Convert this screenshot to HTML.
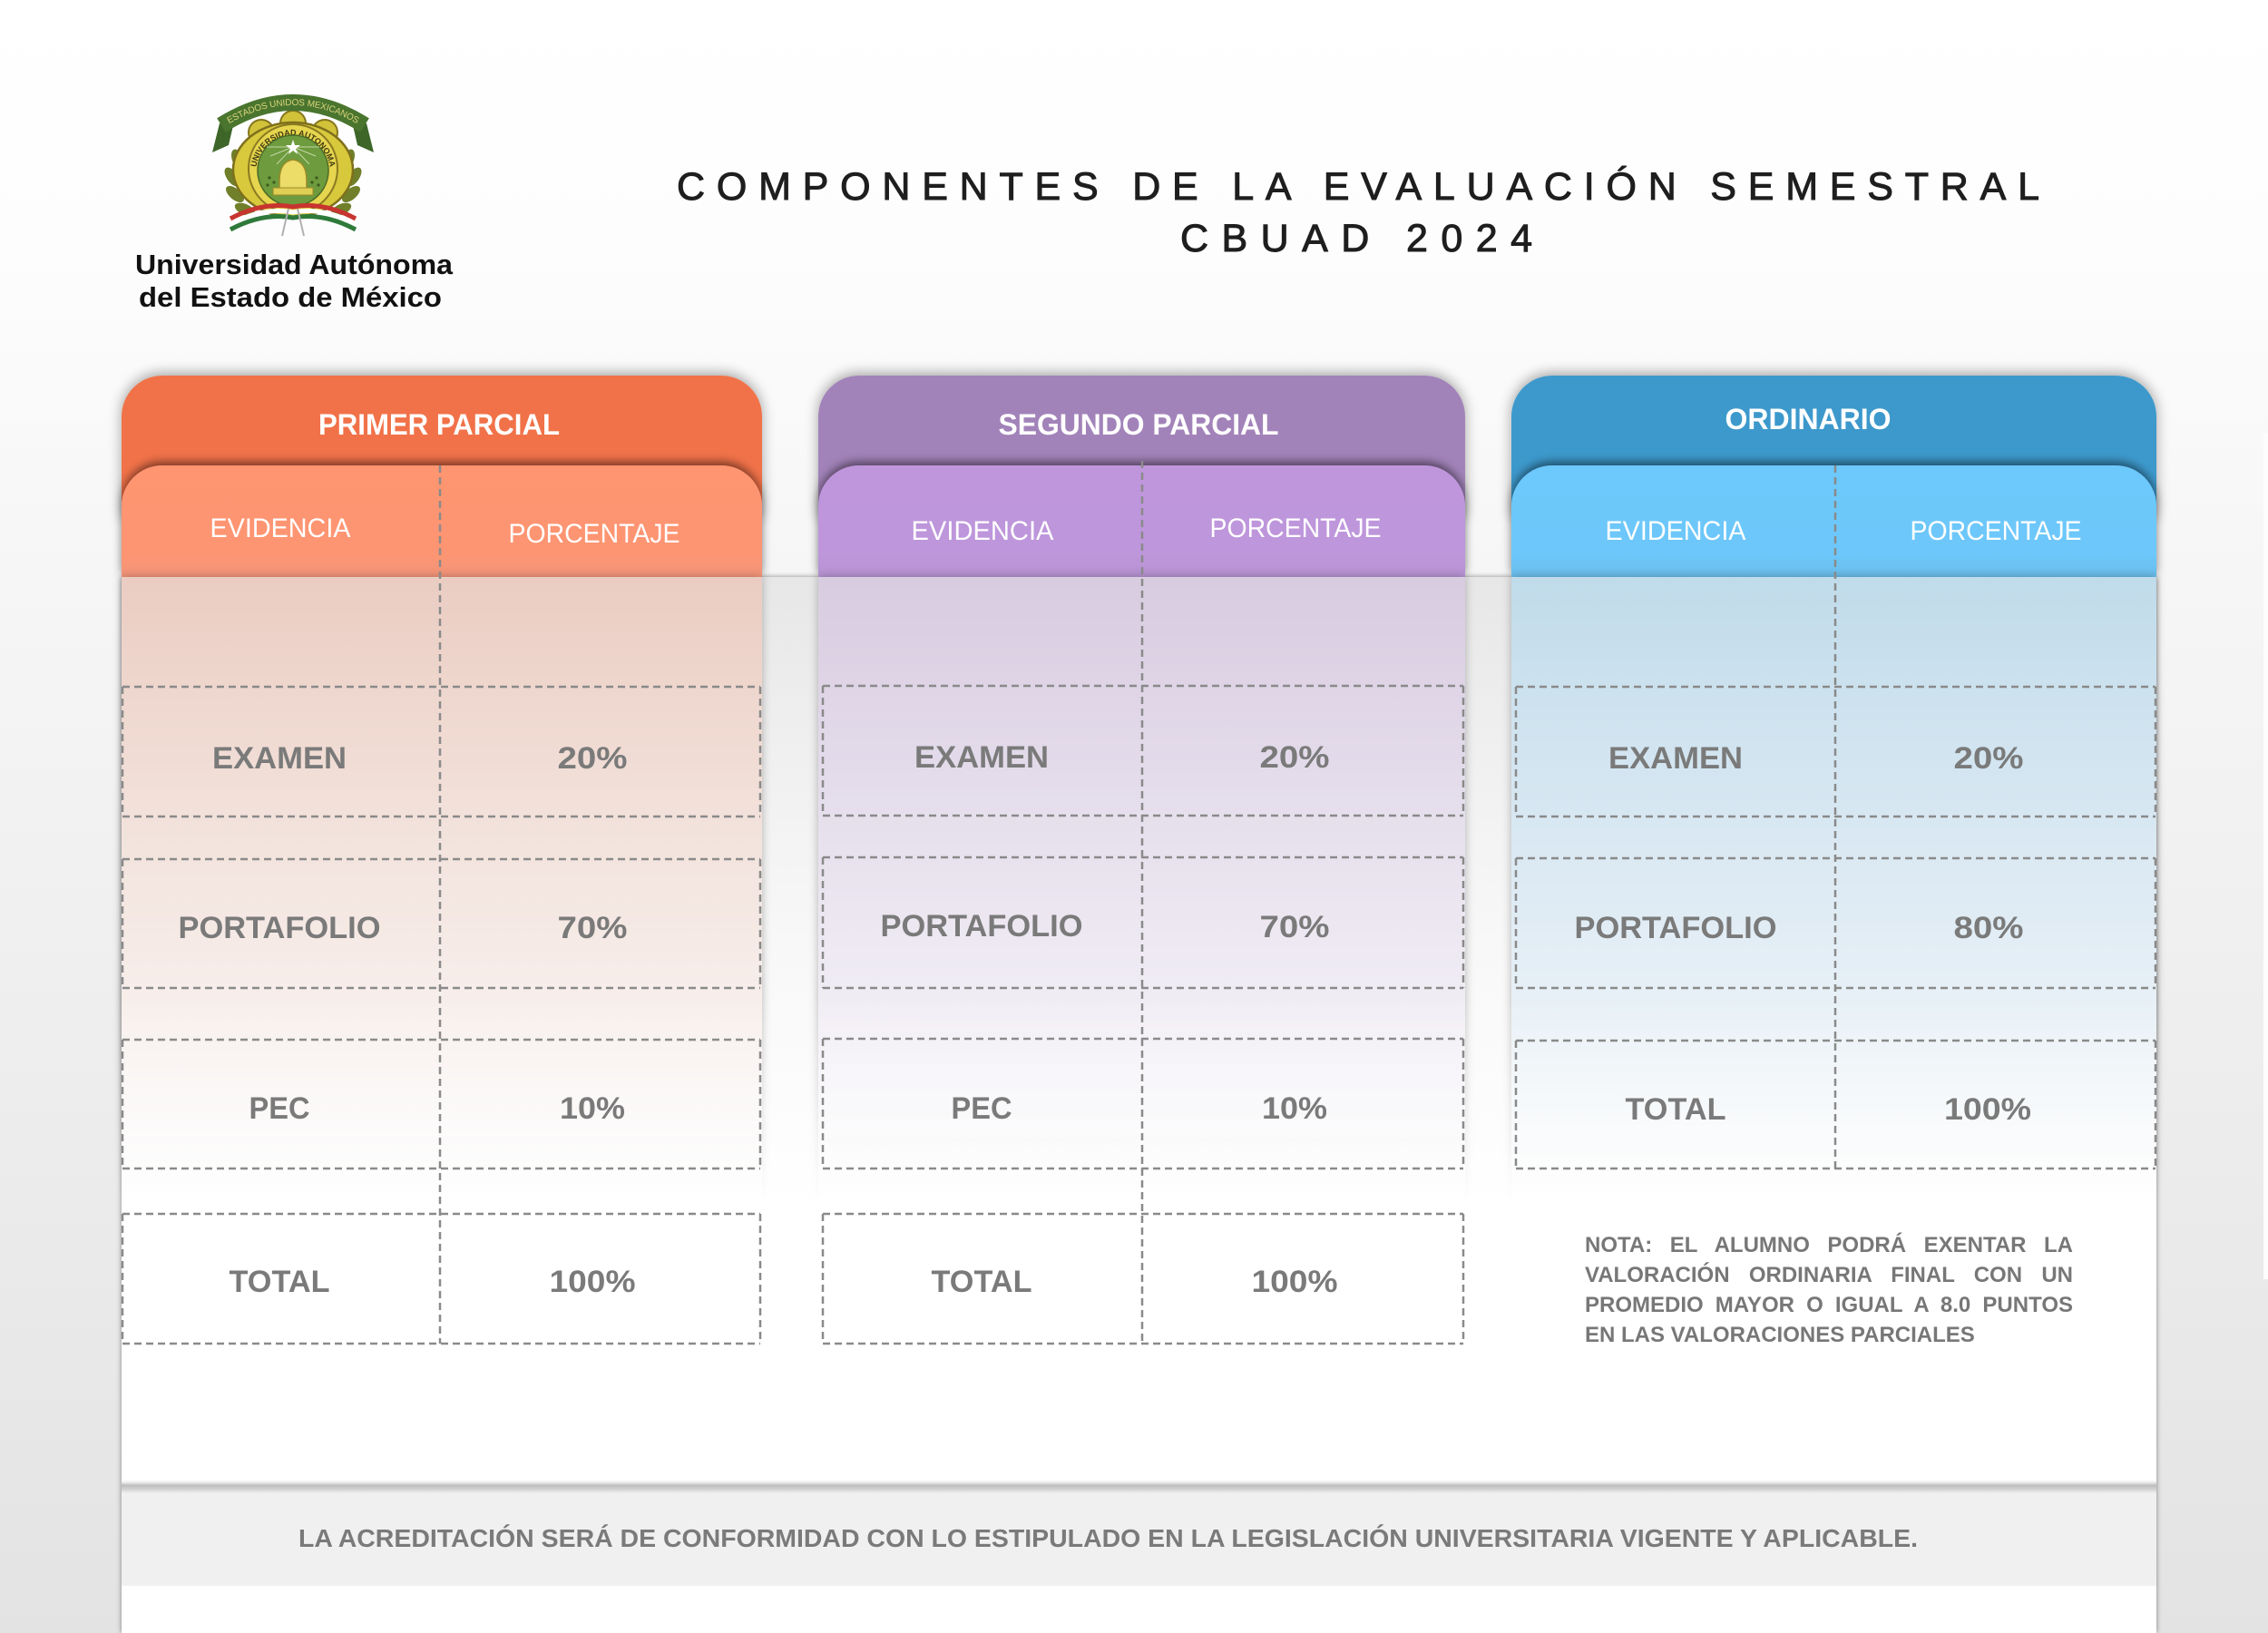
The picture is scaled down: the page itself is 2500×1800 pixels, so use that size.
<!DOCTYPE html>
<html>
<head>
<meta charset="utf-8">
<style>
html,body{margin:0;padding:0;background:#fff;}
.wrap{position:relative;width:2500px;height:1800px;overflow:hidden;}
svg{display:block;position:absolute;left:0;top:0;}
text{font-family:"Liberation Sans",Arial,sans-serif;}
.nota{position:absolute;left:1747px;top:1356px;width:538px;font-family:"Liberation Sans",Arial,sans-serif;font-weight:bold;font-size:24px;line-height:33px;color:#777777;}
.nota div{white-space:nowrap;}
.nota .j{text-align:justify;text-align-last:justify;white-space:normal;}
</style>
</head>
<body>
<div class="wrap">
<svg width="2500" height="1800" viewBox="0 0 2500 1800" xmlns="http://www.w3.org/2000/svg">
<defs>
  <linearGradient id="bg" x1="0" y1="0" x2="0" y2="1800" gradientUnits="userSpaceOnUse">
    <stop offset="0" stop-color="#ffffff"/>
    <stop offset="0.15" stop-color="#fdfdfd"/>
    <stop offset="0.35" stop-color="#f6f6f6"/>
    <stop offset="0.7" stop-color="#ececec"/>
    <stop offset="1" stop-color="#e3e3e3"/>
  </linearGradient>
  <linearGradient id="panel" x1="0" y1="636" x2="0" y2="1800" gradientUnits="userSpaceOnUse">
    <stop offset="0" stop-color="#e7e7e7"/>
    <stop offset="0.15" stop-color="#efefef"/>
    <stop offset="0.35" stop-color="#f8f8f8"/>
    <stop offset="0.6" stop-color="#ffffff"/>
    <stop offset="1" stop-color="#ffffff"/>
  </linearGradient>
  <linearGradient id="bodyO" x1="0" y1="636" x2="0" y2="1400" gradientUnits="userSpaceOnUse">
    <stop offset="0" stop-color="#eaccc2"/>
    <stop offset="0.15" stop-color="#eed6cd"/>
    <stop offset="0.4" stop-color="#f3e4de"/>
    <stop offset="0.7" stop-color="#f9f2f0"/>
    <stop offset="1" stop-color="#ffffff"/>
  </linearGradient>
  <linearGradient id="bodyP" x1="0" y1="636" x2="0" y2="1400" gradientUnits="userSpaceOnUse">
    <stop offset="0" stop-color="#d8cce0"/>
    <stop offset="0.15" stop-color="#ded4e6"/>
    <stop offset="0.4" stop-color="#e8e2ee"/>
    <stop offset="0.7" stop-color="#f4f1f7"/>
    <stop offset="1" stop-color="#ffffff"/>
  </linearGradient>
  <linearGradient id="bodyB" x1="0" y1="636" x2="0" y2="1400" gradientUnits="userSpaceOnUse">
    <stop offset="0" stop-color="#c0dbea"/>
    <stop offset="0.15" stop-color="#cbe1ee"/>
    <stop offset="0.4" stop-color="#dbe9f3"/>
    <stop offset="0.7" stop-color="#ecf3f8"/>
    <stop offset="1" stop-color="#ffffff"/>
  </linearGradient>
  <linearGradient id="subO" x1="0" y1="513" x2="0" y2="636" gradientUnits="userSpaceOnUse">
    <stop offset="0" stop-color="#ff9571"/>
    <stop offset="0.8" stop-color="#fd9572"/>
    <stop offset="1" stop-color="#f2957a"/>
  </linearGradient>
  <linearGradient id="subP" x1="0" y1="513" x2="0" y2="636" gradientUnits="userSpaceOnUse">
    <stop offset="0" stop-color="#bf96dc"/>
    <stop offset="0.8" stop-color="#be96db"/>
    <stop offset="1" stop-color="#b793d2"/>
  </linearGradient>
  <linearGradient id="subB" x1="0" y1="513" x2="0" y2="636" gradientUnits="userSpaceOnUse">
    <stop offset="0" stop-color="#6dc8fb"/>
    <stop offset="0.8" stop-color="#6dc7fa"/>
    <stop offset="1" stop-color="#6bbdeb"/>
  </linearGradient>
  <linearGradient id="fadeG" x1="0" y1="1100" x2="0" y2="1330" gradientUnits="userSpaceOnUse">
    <stop offset="0" stop-color="#fff"/>
    <stop offset="1" stop-color="#000"/>
  </linearGradient>
  <mask id="fadeM" maskUnits="userSpaceOnUse" x="0" y="0" width="2500" height="1800">
    <rect x="0" y="0" width="2500" height="1800" fill="url(#fadeG)"/>
  </mask>
  <linearGradient id="footShadow" x1="0" y1="1630" x2="0" y2="1646" gradientUnits="userSpaceOnUse">
    <stop offset="0" stop-color="#ffffff" stop-opacity="0"/>
    <stop offset="0.45" stop-color="#bdbdbd"/>
    <stop offset="0.7" stop-color="#d0d0d0"/>
    <stop offset="1" stop-color="#f0f0f0"/>
  </linearGradient>
  <filter id="fHead" x="-10%" y="-40%" width="120%" height="180%">
    <feDropShadow dx="0" dy="-3" stdDeviation="7" flood-color="#000" flood-opacity="0.35"/>
  </filter>
  <filter id="fSub" x="-10%" y="-40%" width="120%" height="180%">
    <feDropShadow dx="0" dy="-4" stdDeviation="5" flood-color="#000" flood-opacity="0.5"/>
  </filter>
  <filter id="fPanel" x="-5%" y="-5%" width="110%" height="110%">
    <feDropShadow dx="0" dy="0" stdDeviation="3" flood-color="#000" flood-opacity="0.45"/>
  </filter>
  <filter id="fBody" x="-10%" y="-5%" width="120%" height="110%">
    <feDropShadow dx="0" dy="0" stdDeviation="5" flood-color="#000" flood-opacity="0.28"/>
  </filter>
  <path id="bannerArc" d="M244,138 Q323,88 402,138"/>
  <path id="ringArc" d="M282,190 A41,41 0 0 1 364,190"/>
</defs>

<!-- page background -->
<rect x="0" y="0" width="2500" height="1800" fill="url(#bg)"/>
<rect x="2495" y="477" width="5" height="933" fill="#fdfdfd"/>

<!-- main panel -->
<rect x="134" y="636" width="2243" height="1164" fill="url(#panel)" filter="url(#fPanel)"/>

<!-- headers -->
<path d="M134,574 V459 A45,45 0 0 1 179,414 H795 A45,45 0 0 1 840,459 V574 Z" fill="#f17249" filter="url(#fHead)"/>
<path d="M902,574 V459 A45,45 0 0 1 947,414 H1570 A45,45 0 0 1 1615,459 V574 Z" fill="#a283b9" filter="url(#fHead)"/>
<path d="M1666,574 V459 A45,45 0 0 1 1711,414 H2332 A45,45 0 0 1 2377,459 V574 Z" fill="#3c99cc" filter="url(#fHead)"/>

<!-- sub headers -->
<path d="M134,636 V558 A45,45 0 0 1 179,513 H795 A45,45 0 0 1 840,558 V636 Z" fill="url(#subO)" filter="url(#fSub)"/>
<path d="M902,636 V558 A45,45 0 0 1 947,513 H1570 A45,45 0 0 1 1615,558 V636 Z" fill="url(#subP)" filter="url(#fSub)"/>
<path d="M1666,636 V558 A45,45 0 0 1 1711,513 H2332 A45,45 0 0 1 2377,558 V636 Z" fill="url(#subB)" filter="url(#fSub)"/>

<!-- card bodies -->
<g mask="url(#fadeM)">
  <rect x="134" y="636" width="706" height="700" fill="url(#bodyO)" filter="url(#fBody)"/>
  <rect x="902" y="636" width="713" height="700" fill="url(#bodyP)" filter="url(#fBody)"/>
  <rect x="1666" y="636" width="711" height="700" fill="url(#bodyB)" filter="url(#fBody)"/>
</g>
<rect x="134" y="1330" width="706" height="300" fill="#ffffff"/>
<rect x="902" y="1330" width="713" height="300" fill="#ffffff"/>
<rect x="1666" y="1330" width="711" height="300" fill="#ffffff"/>

<!-- footer band -->
<rect x="134" y="1637" width="2243" height="111" fill="#f0f0f0"/>
<rect x="134" y="1630" width="2243" height="16" fill="url(#footShadow)"/>
<rect x="134" y="1748" width="2243" height="52" fill="#ffffff"/>

<!-- dashed grid -->
<g fill="none" stroke="#8a8a8a" stroke-width="2.5" stroke-dasharray="8 5">
  <!-- orange -->
  <line x1="485" y1="513" x2="485" y2="1481"/>
  <line x1="135" y1="757" x2="838" y2="757"/><line x1="135" y1="900" x2="838" y2="900"/>
  <line x1="135" y1="757" x2="135" y2="900"/><line x1="838" y1="757" x2="838" y2="900"/>
  <line x1="135" y1="947" x2="838" y2="947"/><line x1="135" y1="1089" x2="838" y2="1089"/>
  <line x1="135" y1="947" x2="135" y2="1089"/><line x1="838" y1="947" x2="838" y2="1089"/>
  <line x1="135" y1="1146" x2="838" y2="1146"/><line x1="135" y1="1288" x2="838" y2="1288"/>
  <line x1="135" y1="1146" x2="135" y2="1288"/><line x1="838" y1="1146" x2="838" y2="1288"/>
  <line x1="135" y1="1338" x2="838" y2="1338"/><line x1="135" y1="1481" x2="838" y2="1481"/>
  <line x1="135" y1="1338" x2="135" y2="1481"/><line x1="838" y1="1338" x2="838" y2="1481"/>
  <!-- purple -->
  <line x1="1259" y1="508" x2="1259" y2="1481"/>
  <line x1="907" y1="756" x2="1613" y2="756"/><line x1="907" y1="899" x2="1613" y2="899"/>
  <line x1="907" y1="756" x2="907" y2="899"/><line x1="1613" y1="756" x2="1613" y2="899"/>
  <line x1="907" y1="945" x2="1613" y2="945"/><line x1="907" y1="1089" x2="1613" y2="1089"/>
  <line x1="907" y1="945" x2="907" y2="1089"/><line x1="1613" y1="945" x2="1613" y2="1089"/>
  <line x1="907" y1="1145" x2="1613" y2="1145"/><line x1="907" y1="1288" x2="1613" y2="1288"/>
  <line x1="907" y1="1145" x2="907" y2="1288"/><line x1="1613" y1="1145" x2="1613" y2="1288"/>
  <line x1="907" y1="1338" x2="1613" y2="1338"/><line x1="907" y1="1481" x2="1613" y2="1481"/>
  <line x1="907" y1="1338" x2="907" y2="1481"/><line x1="1613" y1="1338" x2="1613" y2="1481"/>
  <!-- blue -->
  <line x1="2023" y1="513" x2="2023" y2="1288"/>
  <line x1="1671" y1="757" x2="2376" y2="757"/><line x1="1671" y1="900" x2="2376" y2="900"/>
  <line x1="1671" y1="757" x2="1671" y2="900"/><line x1="2376" y1="757" x2="2376" y2="900"/>
  <line x1="1671" y1="946" x2="2376" y2="946"/><line x1="1671" y1="1089" x2="2376" y2="1089"/>
  <line x1="1671" y1="946" x2="1671" y2="1089"/><line x1="2376" y1="946" x2="2376" y2="1089"/>
  <line x1="1671" y1="1147" x2="2376" y2="1147"/><line x1="1671" y1="1288" x2="2376" y2="1288"/>
  <line x1="1671" y1="1147" x2="1671" y2="1288"/><line x1="2376" y1="1147" x2="2376" y2="1288"/>
</g>

<!-- header texts -->
<g fill="#ffffff" font-weight="bold" font-size="32" text-anchor="middle">
  <text x="484" y="479" textLength="266" lengthAdjust="spacingAndGlyphs">PRIMER PARCIAL</text>
  <text x="1255" y="479" textLength="309" lengthAdjust="spacingAndGlyphs">SEGUNDO PARCIAL</text>
  <text x="1993" y="473" textLength="183" lengthAdjust="spacingAndGlyphs">ORDINARIO</text>
</g>
<g fill="#ffffff" font-size="30" text-anchor="middle">
  <text x="309" y="592" textLength="155" lengthAdjust="spacingAndGlyphs">EVIDENCIA</text>
  <text x="655" y="598" textLength="189" lengthAdjust="spacingAndGlyphs">PORCENTAJE</text>
  <text x="1083" y="595" textLength="157" lengthAdjust="spacingAndGlyphs">EVIDENCIA</text>
  <text x="1428" y="592" textLength="189" lengthAdjust="spacingAndGlyphs">PORCENTAJE</text>
  <text x="1847" y="595" textLength="155" lengthAdjust="spacingAndGlyphs">EVIDENCIA</text>
  <text x="2200" y="595" textLength="189" lengthAdjust="spacingAndGlyphs">PORCENTAJE</text>
</g>

<!-- body texts -->
<g fill="#7a7a7a" font-weight="bold" font-size="34" text-anchor="middle">
  <text x="308" y="847" textLength="148" lengthAdjust="spacingAndGlyphs">EXAMEN</text>
  <text x="653" y="847" textLength="77" lengthAdjust="spacingAndGlyphs">20%</text>
  <text x="308" y="1034" textLength="223" lengthAdjust="spacingAndGlyphs">PORTAFOLIO</text>
  <text x="653" y="1034" textLength="77" lengthAdjust="spacingAndGlyphs">70%</text>
  <text x="308" y="1233" textLength="67" lengthAdjust="spacingAndGlyphs">PEC</text>
  <text x="653" y="1233" textLength="72" lengthAdjust="spacingAndGlyphs">10%</text>
  <text x="308" y="1424" textLength="111" lengthAdjust="spacingAndGlyphs">TOTAL</text>
  <text x="653" y="1424" textLength="95" lengthAdjust="spacingAndGlyphs">100%</text>

  <text x="1082" y="846" textLength="148" lengthAdjust="spacingAndGlyphs">EXAMEN</text>
  <text x="1427" y="846" textLength="77" lengthAdjust="spacingAndGlyphs">20%</text>
  <text x="1082" y="1032" textLength="223" lengthAdjust="spacingAndGlyphs">PORTAFOLIO</text>
  <text x="1427" y="1033" textLength="77" lengthAdjust="spacingAndGlyphs">70%</text>
  <text x="1082" y="1233" textLength="67" lengthAdjust="spacingAndGlyphs">PEC</text>
  <text x="1427" y="1233" textLength="72" lengthAdjust="spacingAndGlyphs">10%</text>
  <text x="1082" y="1424" textLength="111" lengthAdjust="spacingAndGlyphs">TOTAL</text>
  <text x="1427" y="1424" textLength="95" lengthAdjust="spacingAndGlyphs">100%</text>

  <text x="1847" y="847" textLength="148" lengthAdjust="spacingAndGlyphs">EXAMEN</text>
  <text x="2192" y="847" textLength="77" lengthAdjust="spacingAndGlyphs">20%</text>
  <text x="1847" y="1034" textLength="223" lengthAdjust="spacingAndGlyphs">PORTAFOLIO</text>
  <text x="2192" y="1034" textLength="77" lengthAdjust="spacingAndGlyphs">80%</text>
  <text x="1847" y="1234" textLength="111" lengthAdjust="spacingAndGlyphs">TOTAL</text>
  <text x="2191" y="1234" textLength="96" lengthAdjust="spacingAndGlyphs">100%</text>
</g>

<!-- footer text -->
<text x="329" y="1705" fill="#7a7a7a" font-weight="bold" font-size="28" textLength="1785" lengthAdjust="spacingAndGlyphs">LA ACREDITACIÓN SERÁ DE CONFORMIDAD CON LO ESTIPULADO EN LA LEGISLACIÓN UNIVERSITARIA VIGENTE Y APLICABLE.</text>

<!-- title -->
<g fill="#1e1e1e" stroke="#1e1e1e" stroke-width="1" font-size="43">
  <text x="746" y="220" textLength="1502" lengthAdjust="spacing">COMPONENTES DE LA EVALUACIÓN SEMESTRAL</text>
  <text x="1301" y="277" textLength="388" lengthAdjust="spacing">CBUAD 2024</text>
</g>

<!-- university name -->
<g fill="#111111" font-weight="bold" font-size="31">
  <text x="149" y="302" textLength="350" lengthAdjust="spacingAndGlyphs">Universidad Autónoma</text>
  <text x="153" y="338" textLength="334" lengthAdjust="spacingAndGlyphs">del Estado de México</text>
</g>

<!-- crest -->
<g>
  <!-- banner tails -->
  <path d="M242,136 L234,168 L252,160 L258,134 Z" fill="#3d6628"/>
  <path d="M404,136 L412,168 L394,160 L388,134 Z" fill="#3d6628"/>
  <!-- laurels -->
  <g fill="#6f7f2a">
    <ellipse cx="262" cy="176" rx="6" ry="12" transform="rotate(-20 262 176)"/>
    <ellipse cx="256" cy="195" rx="6" ry="12" transform="rotate(-35 256 195)"/>
    <ellipse cx="259" cy="214" rx="6" ry="12" transform="rotate(-50 259 214)"/>
    <ellipse cx="270" cy="231" rx="6" ry="12" transform="rotate(-65 270 231)"/>
    <ellipse cx="384" cy="176" rx="6" ry="12" transform="rotate(20 384 176)"/>
    <ellipse cx="390" cy="195" rx="6" ry="12" transform="rotate(35 390 195)"/>
    <ellipse cx="387" cy="214" rx="6" ry="12" transform="rotate(50 387 214)"/>
    <ellipse cx="376" cy="231" rx="6" ry="12" transform="rotate(65 376 231)"/>
  </g>
  <!-- shield -->
  <circle cx="288" cy="146" r="14" fill="#d2c23a" stroke="#85761d" stroke-width="2"/>
  <circle cx="323" cy="136" r="14" fill="#d2c23a" stroke="#85761d" stroke-width="2"/>
  <circle cx="358" cy="146" r="14" fill="#d2c23a" stroke="#85761d" stroke-width="2"/>
  <ellipse cx="323" cy="187" rx="66" ry="52" fill="#d8c83c" stroke="#7e701c" stroke-width="2.5"/>
  <circle cx="323" cy="186" r="49" fill="#e6d54e" stroke="#8a7a20" stroke-width="2"/>
  <text font-size="9" font-weight="bold" fill="#3e3a10" text-anchor="middle"><textPath href="#ringArc" startOffset="50%">UNIVERSIDAD AUTONOMA</textPath></text>
  <circle cx="323" cy="188" r="39" fill="#6d9b3e" stroke="#4a6a25" stroke-width="1.5"/>
  <g stroke="#e8f0d0" stroke-width="1" opacity="0.7">
    <line x1="323" y1="162" x2="298" y2="172"/>
    <line x1="323" y1="162" x2="348" y2="172"/>
    <line x1="323" y1="162" x2="305" y2="181"/>
    <line x1="323" y1="162" x2="341" y2="181"/>
    <line x1="323" y1="162" x2="294" y2="162"/>
    <line x1="323" y1="162" x2="352" y2="162"/>
  </g>
  <polygon points="323,154 325,160 331,160 326,164 328,170 323,166 318,170 320,164 315,160 321,160" fill="#ffffff"/>
  <path d="M308,208 L308,199 Q308,178 323,176 Q338,178 338,199 L338,208 Z" fill="#ecdc68" stroke="#9c8a28" stroke-width="1.5"/>
  <rect x="301" y="207" width="44" height="8" fill="#e0cf55" stroke="#9c8a28" stroke-width="1"/>
  <g fill="#3e5a1f">
    <circle cx="297" cy="196" r="1.6"/><circle cx="302" cy="201" r="1.6"/><circle cx="295" cy="204" r="1.6"/>
    <circle cx="349" cy="196" r="1.6"/><circle cx="344" cy="201" r="1.6"/><circle cx="351" cy="204" r="1.6"/>
  </g>
  <!-- banner arc -->
  <path d="M244,138 Q323,88 402,138" fill="none" stroke="#4f7d32" stroke-width="18"/>
  <path d="M244,138 Q323,88 402,138" fill="none" stroke="#3a6024" stroke-width="18" stroke-opacity="0.25"/>
  <text font-size="10" fill="#d8d47c" text-anchor="middle" dy="3"><textPath href="#bannerArc" startOffset="50%">ESTADOS UNIDOS MEXICANOS</textPath></text>
  <!-- tricolor ribbon -->
  <path d="M254,253 Q290,234 323,240 Q356,234 392,253" fill="none" stroke="#2f7a3a" stroke-width="5"/>
  <path d="M254,247 Q290,228 323,234 Q356,228 392,247" fill="none" stroke="#ffffff" stroke-width="5"/>
  <path d="M254,241 Q290,222 323,228 Q356,222 392,241" fill="none" stroke="#c8342f" stroke-width="5"/>
  <path d="M318,230 L311,260 M328,230 L335,260" stroke="#b0b0b0" stroke-width="2"/>
</g>
</svg>

<div class="nota">
  <div class="j">NOTA: EL ALUMNO PODRÁ EXENTAR LA</div>
  <div class="j">VALORACIÓN ORDINARIA FINAL CON UN</div>
  <div class="j">PROMEDIO MAYOR O IGUAL A 8.0 PUNTOS</div>
  <div>EN LAS VALORACIONES PARCIALES</div>
</div>
</div>
</body>
</html>
